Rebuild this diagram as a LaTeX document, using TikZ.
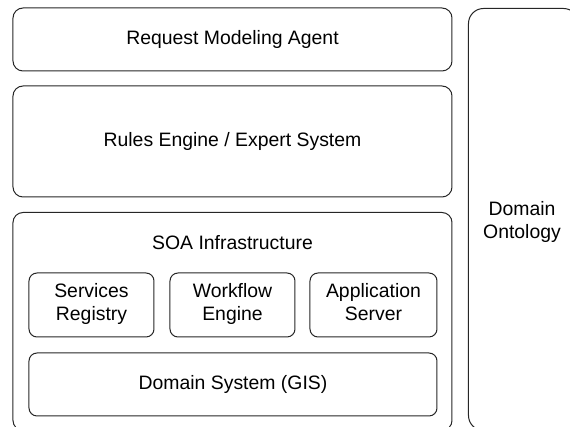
\documentclass[tikz,border=0pt]{standalone}
\usepackage{fontspec}
\setmainfont{Liberation Sans}
\begin{document}
\begin{tikzpicture}[x=0.5pt,y=-0.5pt,
    every node/.style={font=\fontsize{9.7}{11.5}\selectfont, align=center, line width=0.5pt, draw=black!85},
    layer/.style={draw, rounded corners=5pt, inner sep=0pt},
    part/.style={draw, rounded corners=4pt, inner sep=0pt, minimum width=62.5pt, minimum height=32pt, execute at end node=\strut},
    label/.style={draw=none}]
    \useasboundingbox (0,0) rectangle (570,427);
    \clip (0,0) rectangle (570,427);

    % top layers
    \node[layer, minimum width=219.5pt, minimum height=31.5pt] (req) at (232.5,39.5) {Request Modeling Agent};
    \node[layer, minimum width=219.5pt, minimum height=55.5pt] (rules) at (232.5,141.5) {Rules Engine / Expert System};

    % infrastructure, runs past the lower edge
    \node[layer, minimum width=219.5pt, minimum height=109pt, anchor=north] (soa) at (232.5,212) {};
    \node[label] (soatxt) at (232.5,243) {SOA Infrastructure};
    \node[part] (reg) at (91.5,305) {Services\\Registry};
    \node[part] (wf) at (232.5,305) {Workflow\\Engine};
    \node[part, minimum width=63.5pt] (app) at (373.5,305) {Application\\Server};
    \node[part, minimum width=204pt, minimum height=31.5pt, execute at end node={}] (gis) at (233,384.5) {Domain System (GIS)};

    % side column
    \node[layer, rounded corners=7.5pt, minimum width=55pt, minimum height=211pt, anchor=north west] (onto) at (468,8) {};
    \node[label] (ontotxt) at (522,222) {Domain\\Ontology};

\end{tikzpicture}
\end{document}
